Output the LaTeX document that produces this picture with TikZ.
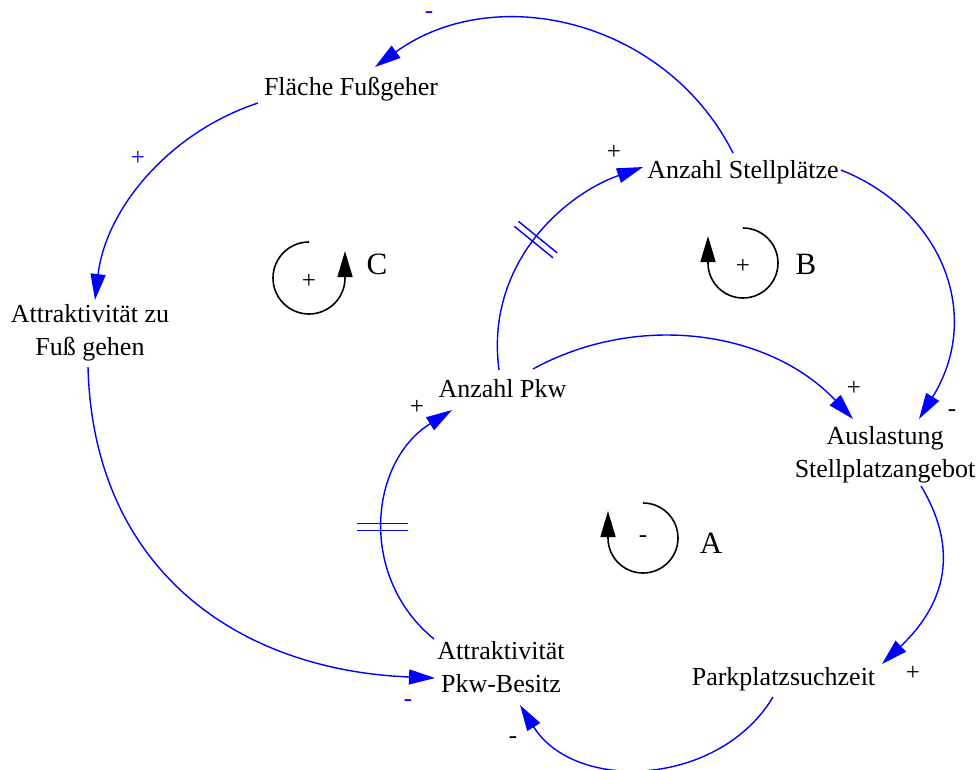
\documentclass[tikz,border=0pt]{standalone}
\usepackage{fontspec}
\setmainfont{Liberation Serif}
\usetikzlibrary{arrows.meta,calc}
\definecolor{linkblue}{RGB}{0,0,255}
\begin{document}
\begin{tikzpicture}[x=1pt,y=-1pt,
  var/.style={align=center,inner sep=0pt,font=\fontsize{26}{33}\selectfont,
    execute at begin node=\strut, execute at end node=\strut},
  link/.style={draw=linkblue,line width=1.4pt,-{Triangle[length=26pt,width=15pt]}},
  delaymark/.style={draw=linkblue,line width=1.4pt},
  pol/.style={inner sep=0pt,font=\fontsize{25}{25}\selectfont},
  bluepol/.style={pol,text=linkblue},
  loopline/.style={draw=black,line width=1.6pt,-{Triangle[length=26pt,width=15pt]}},
  looplabel/.style={inner sep=0pt,font=\fontsize{31}{31}\selectfont}]
\useasboundingbox (0,0) rectangle (980,769);

% variables
\node[var] (fl)  at (351,88.9)   {Fläche Fußgeher};
\node[var] (st)  at (743,171.4)  {Anzahl Stellplätze};
\node[var] (afg) at (90,334.9)   {Attraktivität zu\\Fuß gehen};
\node[var] (pkw) at (502.5,390.4){Anzahl Pkw};
\node[var] (aus) at (885,456.9)  {Auslastung\\Stellplatzangebot};
\node[var] (apb) at (501,671.9)  {Attraktivität\\Pkw-Besitz};
\node[var] (pps) at (783.5,678.4){Parkplatzsuchzeit};

% links
\draw[link] ($(st)+(-10,-18.4)$) .. controls +(-67,-133) and +(120,-87) .. ($(fl)+(24,-21.9)$);
\draw[link] ($(fl)+(-93,14.1)$) .. controls +(-88,29) and +(11,-92) .. ($(afg)+(5,-34.9)$);
\draw[link] ($(afg)+(-2,32.1)$) .. controls +(5,200) and +(-200,-8) .. ($(apb)+(-66,6.1)$);
\draw[link] ($(apb)+(-67,-32.9)$) .. controls +(-76,-62) and +(-83,52) .. ($(pkw)+(-50.5,19.6)$);
\draw[link] ($(pkw)+(-3.5,-20.4)$) .. controls +(-14,-105) and +(-80,28) .. ($(st)+(-100,-4.4)$);
\draw[link] ($(pkw)+(30.5,-21.4)$) .. controls +(106,-58) and +(-83,-88) .. ($(aus)+(-32,-37.9)$);
\draw[link] ($(st)+(98,-1.4)$) .. controls +(100,40) and +(65,-105) .. ($(aus)+(34,-37.9)$);
\draw[link] ($(aus)+(36,29.1)$) .. controls +(42,70) and +(58,-55) .. ($(pps)+(98.5,-14.4)$);
\draw[link] ($(pps)+(-10.5,18.6)$) .. controls +(-54,90) and +(55,88) .. ($(apb)+(19,33.1)$);

% delay marks
\draw[delaymark] (357,523.5) -- (408,523.5);
\draw[delaymark] (357,530.5) -- (408,530.5);
\draw[delaymark] (518.4,221.3) -- (557.2,252.9);
\draw[delaymark] (514.3,226.3) -- (553.1,257.9);

% polarities
\node[bluepol] (p1) at (429,15)  {-};
\node[bluepol] (p2) at (138,158) {+};
\node[bluepol] (p3) at (408,703) {-};
\node[pol] (p4) at (417,407) {+};
\node[pol] (p5) at (614,152) {+};
\node[pol] (p6) at (854,388) {+};
\node[pol] (p7) at (952,413) {-};
\node[pol] (p8) at (913,673) {+};
\node[pol] (p9) at (513,740) {-};

% loop symbols
\draw[loopline] (309,242) arc[start angle=-90,end angle=-360,radius=36] -- ++(0,-27);
\draw[loopline] (743,228) arc[start angle=270,end angle=540,radius=35] -- ++(0,-27);
\draw[loopline] (643,503) arc[start angle=270,end angle=540,radius=35] -- ++(0,-27);
\node[pol] (lc) at (309,281) {+};
\node[pol] (lb) at (743,266) {+};
\node[pol] (la) at (643,539) {-};
\node[looplabel] (cc) at (377,264) {C};
\node[looplabel] (cb) at (806,264) {B};
\node[looplabel] (ca) at (711,543) {A};
\end{tikzpicture}
\end{document}
